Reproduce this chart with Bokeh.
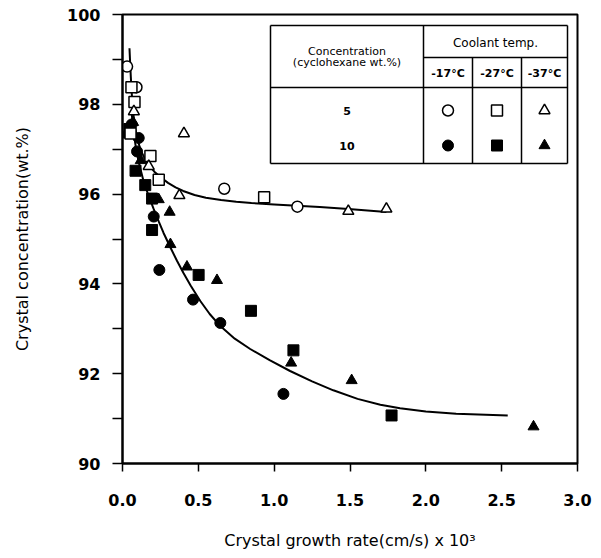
from bokeh.plotting import figure
from bokeh.models import FixedTicker, NumeralTickFormatter, Range1d
from bokeh.core.properties import value
from bokeh.embed import file_html
from bokeh.resources import INLINE

# ---- data ----
# 5 wt.% cyclohexane (open symbols)
c5_m17_x = [0.03, 0.092, 0.671, 1.153]
c5_m17_y = [98.84, 98.38, 96.12, 95.72]
c5_m27_x = [0.059, 0.079, 0.053, 0.184, 0.239, 0.934]
c5_m27_y = [98.38, 98.05, 97.35, 96.85, 96.32, 95.93]
c5_m37_x = [0.075, 0.173, 0.375, 0.405, 1.489, 1.74]
c5_m37_y = [97.84, 96.62, 95.97, 97.35, 95.62, 95.67]
# 10 wt.% cyclohexane (filled symbols)
c10_m17_x = [0.06, 0.107, 0.096, 0.206, 0.243, 0.465, 0.645, 1.061]
c10_m17_y = [97.55, 97.25, 96.95, 95.50, 94.31, 93.65, 93.13, 91.55]
c10_m27_x = [0.045, 0.086, 0.15, 0.195, 0.195, 0.502, 0.847, 1.127, 1.774]
c10_m27_y = [97.45, 96.52, 96.2, 95.9, 95.2, 94.2, 93.4, 92.52, 91.07]
c10_m37_x = [0.02, 0.07, 0.12, 0.239, 0.311, 0.316, 0.425, 0.623, 1.112, 1.511, 2.71]
c10_m37_y = [97.32, 97.6, 96.75, 95.88, 95.6, 94.88, 94.38, 94.08, 92.24, 91.85, 90.82]

# fitted curves
fit5_x = [0.046, 0.05, 0.055, 0.06, 0.066, 0.074, 0.085, 0.1, 0.12, 0.145, 0.175, 0.21,
          0.25, 0.3, 0.35, 0.4, 0.475, 0.55, 0.65, 0.75, 0.85, 1.0, 1.15, 1.3, 1.49, 1.74]
fit5_y = [99.25, 98.95, 98.6, 98.3, 97.98, 97.72, 97.45, 97.2, 96.98, 96.8, 96.64, 96.5,
          96.38, 96.25, 96.15, 96.07, 95.98, 95.92, 95.87, 95.83, 95.80, 95.77, 95.74, 95.71,
          95.67, 95.6]
fit10_x = [0.059, 0.072, 0.09, 0.11, 0.138, 0.17, 0.204, 0.24, 0.27, 0.316, 0.36, 0.401,
           0.45, 0.513, 0.575, 0.645, 0.74, 0.842, 0.97, 1.105, 1.25, 1.39, 1.55, 1.7,
           1.83, 2.0, 2.2, 2.54]
fit10_y = [97.86, 97.4, 97.0, 96.67, 96.3, 95.98, 95.68, 95.38, 95.14, 94.81, 94.51, 94.25,
           93.96, 93.62, 93.33, 93.06, 92.78, 92.55, 92.30, 92.06, 91.83, 91.63, 91.44,
           91.31, 91.23, 91.16, 91.11, 91.07]

x_ticks = [0.0, 0.5, 1.0, 1.5, 2.0, 2.5, 3.0]
y_ticks = [90, 92, 94, 96, 98, 100]
y_minor = [91, 93, 95, 97, 99]

temps = ["-17°C", "-27°C", "-37°C"]
concs = ["5", "10"]

FONT = "DejaVu Sans"

W, H = 601, 558
L, R, T, B = 122, 24, 14, 95
X0, X1, Y0, Y1 = 0.0, 3.0, 90.0, 100.0
FW, FH = W - L - R, H - T - B


def px2x(px):
    return X0 + (px - L) / FW * (X1 - X0)


def py2y(py):
    return Y1 - (py - T) / FH * (Y1 - Y0)


p = figure(width=W, height=H, output_backend="svg", toolbar_location=None,
           x_range=Range1d(X0, X1), y_range=Range1d(Y0, Y1),
           min_border_left=L, min_border_right=R, min_border_top=T, min_border_bottom=B)
p.background_fill_color = "white"
p.border_fill_color = "white"
p.outline_line_color = "black"
p.outline_line_width = 2
p.xgrid.visible = False
p.ygrid.visible = False

p.xaxis.ticker = FixedTicker(ticks=x_ticks)
p.xaxis.formatter = NumeralTickFormatter(format="0.0")
p.yaxis.ticker = FixedTicker(ticks=y_ticks, minor_ticks=y_minor)
for ax in (p.xaxis[0], p.yaxis[0]):
    ax.axis_line_width = 2
    ax.axis_line_color = "black"
    ax.major_tick_line_width = 1.5
    ax.minor_tick_line_width = 1.5
    ax.major_tick_in = 0
    ax.minor_tick_in = 0
    ax.major_label_text_font = FONT
    ax.major_label_text_font_style = "bold"
    ax.major_label_text_font_size = "16px"
    ax.major_label_text_color = "black"
    ax.axis_label_text_font = FONT
    ax.axis_label_text_font_style = "normal"
    ax.axis_label_text_font_size = "16px"
    ax.axis_label_text_color = "black"
p.xaxis.major_tick_out = 8
p.xaxis.minor_tick_out = 0
p.yaxis.major_tick_out = 10
p.yaxis.minor_tick_out = 10
p.xaxis.major_label_standoff = 22
p.yaxis.major_label_standoff = 12
p.xaxis.axis_label = "Crystal growth rate(cm/s) x 10³"
p.yaxis.axis_label = "Crystal concentration(wt.%)"
p.xaxis.axis_label_standoff = 22
p.yaxis.axis_label_standoff = 32

# curves
p.line(fit5_x, fit5_y, line_color="black", line_width=2)
p.line(fit10_x, fit10_y, line_color="black", line_width=2)

# points
MS = 11
open_kw = dict(fill_color="white", line_color="black", line_width=1.5, size=MS)
fill_kw = dict(fill_color="black", line_color="black", line_width=1, size=MS)
p.scatter(c10_m17_x, c10_m17_y, marker="circle", **fill_kw)
p.scatter(c10_m27_x, c10_m27_y, marker="square", **fill_kw)
p.scatter(c10_m37_x, c10_m37_y, marker="triangle", **fill_kw)
p.scatter(c5_m17_x, c5_m17_y, marker="circle", **open_kw)
p.scatter(c5_m27_x, c5_m27_y, marker="square", **open_kw)
p.scatter(c5_m37_x, c5_m37_y, marker="triangle", **open_kw)

# legend table (layout in screen pixels, converted to data units)
tl, tr, tt, tb = 270, 567, 25, 163
c1, c2, c3 = 423, 472, 521
r1, r2 = 57, 87
seg_x0 = [tl, tl, tl, tr, c1, c1, c2, c3, tl]
seg_x1 = [tr, tr, tl, tr, tr, c1, c2, c3, tr]
seg_y0 = [tt, tb, tt, tt, r1, tt, r1, r1, r2]
seg_y1 = [tt, tb, tb, tb, r1, tb, tb, tb, r2]
p.segment([px2x(v) for v in seg_x0], [py2y(v) for v in seg_y0],
          [px2x(v) for v in seg_x1], [py2y(v) for v in seg_y1],
          line_color="black", line_width=1.5)

colc = [(c1 + c2) / 2, (c2 + c3) / 2, (c3 + tr) / 2]
rowc = [110, 145]
lab_x = (tl + c1) / 2

p.text([px2x(lab_x)], [py2y(51)], text=["Concentration"], text_font=value(FONT),
       text_font_size="11px", text_align="center", text_baseline="middle")
p.text([px2x(lab_x)], [py2y(62)], text=["(cyclohexane wt.%)"], text_font=value(FONT),
       text_font_size="11px", text_align="center", text_baseline="middle")
p.text([px2x((c1 + tr) / 2)], [py2y(42)], text=["Coolant temp."], text_font=value(FONT),
       text_font_size="12px", text_align="center", text_baseline="middle")
p.text([px2x(v) for v in colc], [py2y(73)] * 3, text=temps, text_font=value(FONT),
       text_font_size="11px", text_font_style="bold", text_align="center",
       text_baseline="middle")
p.text([px2x(lab_x)] * 2, [py2y(v) for v in rowc], text=concs, text_font=value(FONT),
       text_font_size="11px", text_font_style="bold", text_align="center",
       text_baseline="middle")

markers = ["circle", "square", "triangle"]
for i, m in enumerate(markers):
    p.scatter([px2x(colc[i])], [py2y(rowc[0])], marker=m, **open_kw)
    p.scatter([px2x(colc[i])], [py2y(rowc[1])], marker=m, **fill_kw)

open("out.html", "w").write(file_html(p, INLINE))
